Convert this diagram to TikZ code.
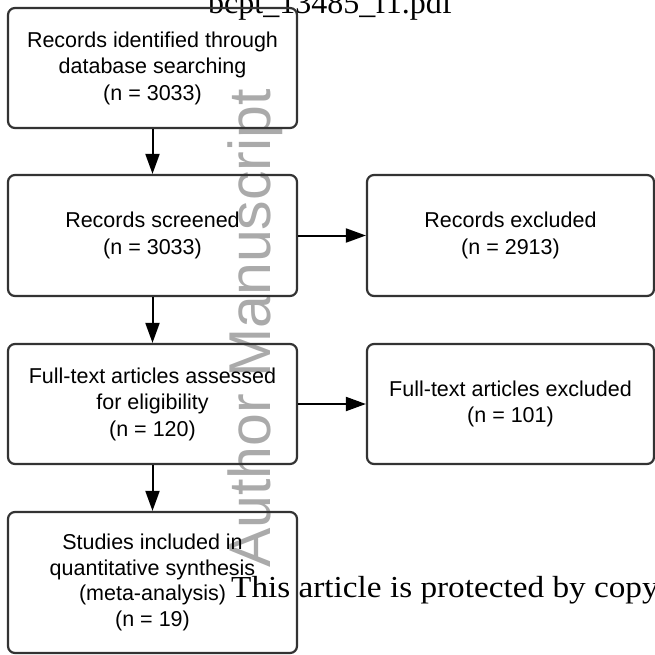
\documentclass[tikz,border=0pt]{standalone}
\usepackage{fontspec}
\setmainfont{Liberation Sans}
\newfontfamily\serifface{Liberation Serif}
\newfontfamily\widserif[FakeStretch=1.09]{Liberation Serif}
\usetikzlibrary{arrows.meta}
\definecolor{boxline}{HTML}{333333}
\definecolor{wmark}{HTML}{AAAAAA}
\tikzset{
  flowbox/.style={draw=boxline, line width=2.2pt, rounded corners=7pt,
    align=center, inner sep=0pt, text=black,
    font=\fontsize{21.5}{26.5}\selectfont},
  flowarrow/.style={line width=2pt, -{Triangle[length=20pt,width=14pt]}},
}
\begin{document}
\begin{tikzpicture}[x=1pt,y=-1pt]
  \useasboundingbox (0,0) rectangle (655,655);
  \clip (0,0) rectangle (655,655);

  % file name printed along the top edge
  \node[anchor=base west, inner sep=0pt, font=\serifface\fontsize{32}{32}\selectfont]
    (fname) at (208,14) {bcpt\_13485\_f1.pdf};

  % vertical watermark
  \node[rotate=90, anchor=base west, inner sep=0pt, text=wmark,
    font=\fontsize{59}{59}\selectfont] (wm) at (270,568) {Author Manuscript};

  % left column
  \node[flowbox, minimum width=289pt, minimum height=120pt] (ident) at (152.5,68)
    {Records identified through\\database searching\\(n = 3033)};
  \node[flowbox, minimum width=289pt, minimum height=121pt] (screen) at (152.5,235.5)
    {Records screened\\(n = 3033)};
  \node[flowbox, minimum width=289pt, minimum height=120pt] (full) at (152.5,404)
    {Full-text articles assessed\\for eligibility\\(n = 120)};
  \node[flowbox, minimum width=289pt, minimum height=141pt,
    font=\fontsize{21.5}{25.5}\selectfont] (incl) at (152.5,582.5)
    {Studies included in\\quantitative synthesis\\(meta-analysis)\\(n = 19)};

  % right column
  \node[flowbox, minimum width=287pt, minimum height=121pt] (excl) at (510.5,235.5)
    {Records excluded\\(n = 2913)};
  \node[flowbox, minimum width=287pt, minimum height=120pt] (fexcl) at (510.5,404)
    {Full-text articles excluded\\(n = 101)};

  % connectors
  \draw[flowarrow] (ident) -- (screen);
  \draw[flowarrow] (screen) -- (full);
  \draw[flowarrow] (full) -- (incl);
  \draw[flowarrow] (screen) -- (excl);
  \draw[flowarrow] (full) -- (fexcl);

  % notice line across the lower part
  \node[anchor=base west, inner sep=0pt, font=\widserif\fontsize{30.5}{30.5}\selectfont]
    (notice) at (231,597) {This article is protected by copyright.};
\end{tikzpicture}
\end{document}
